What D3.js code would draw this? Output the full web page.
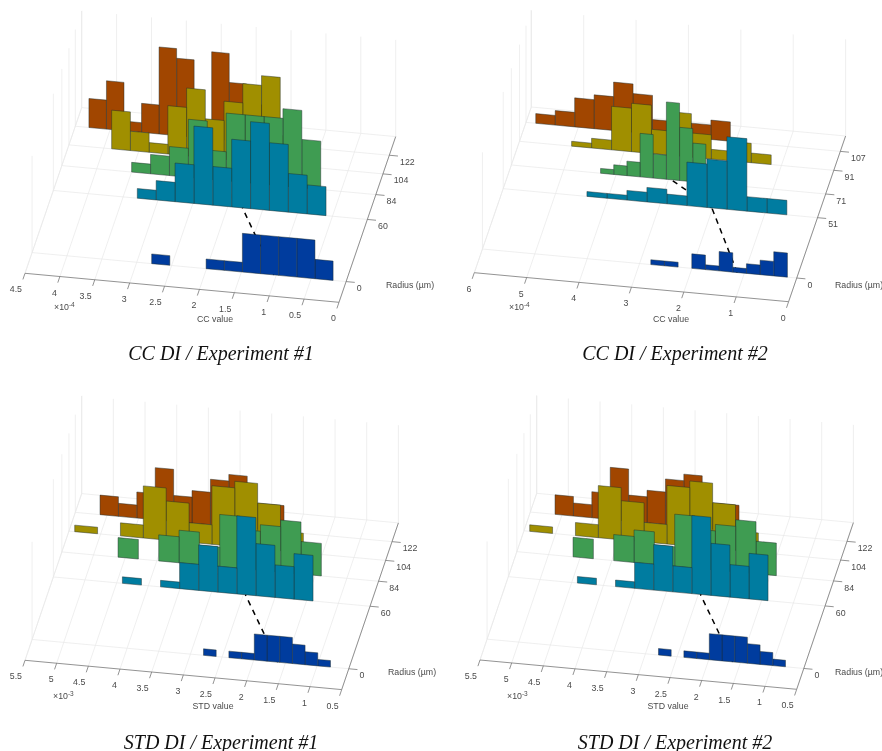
<!DOCTYPE html>
<html><head><meta charset="utf-8">
<script src="https://cdn.jsdelivr.net/npm/d3@7"></script>
<style>html,body{margin:0;padding:0;background:#fff;overflow:hidden}svg{display:block;filter:blur(0.45px)}</style>
</head><body><svg id="c" width="882" height="751" viewBox="0 0 882 751"></svg>
<script>
// ---- data: histogram counts per radius, from the low end of the value axis upward
const radiiA = [0, 60, 84, 104, 122];
const radiiB = [0, 51, 71, 91, 107];

const ccExp1Counts = [
  [2,4,4,4,4,1,1,0,0,1],
  [3,4,7,9,7,4,8,4,2,1],
  [5,8,7,7,7,3,6,3,2,1],
  [3,9,8,6,4,7,5,1,2,4],
  [4,6,9,1,8,9,3,1,5,3]
];
const ccExp1Low   = [0.186, 0.592, 0.790, 1.203, 1.792];
const ccExp1Width = [0.260, 0.2705, 0.271, 0.2685, 0.2513];

const ccExp2Counts = [
  [5,3,2,1,4,1,3,0,1,1],
  [3,3,15,10,9,2,3,2,1,1],
  [0,0,8,11,16,5,9,3,2,1],
  [2,4,2,5,9,5,10,9,2,1],
  [4,3,3,3,8,10,7,6,3,2]
];
const ccExp2Low   = [0.178, 0.585, 1.784, 1.195, 2.099];
const ccExp2Width = [0.2608, 0.3817, 0.2513, 0.381, 0.3715];

const stdExp1Counts = [
  [1,2,3,4,4,4,1,1,0,1],
  [7,5,8,12,4,7,4,1,0,1],
  [5,8,7,6,8,3,5,4,0,3],
  [3,7,10,9,3,6,8,2,0,1],
  [4,4,8,7,5,4,8,4,2,3]
];
const stdExp1Low   = [0.789, 1.400, 1.403, 1.799, 2.205];
const stdExp1Width = [0.2005, 0.301, 0.321, 0.361, 0.2905];

const stdExp2Counts = [
  [1,2,3,4,4,4,1,1,0,1],
  [7,5,8,12,4,7,4,1,0,1],
  [5,8,7,6,8,3,5,4,0,3],
  [3,7,10,9,3,6,8,2,0,1],
  [4,4,8,7,5,4,8,4,2,3]
];
const stdExp2Low   = [0.789, 1.400, 1.403, 1.799, 2.205];
const stdExp2Width = [0.2005, 0.301, 0.321, 0.361, 0.2905];

// trend line: [value, radius] on the floor
const ccExp1Trend  = [[1.034,0],[1.79,60]];
const ccExp2Trend  = [[1.136,0],[2.017,51],[2.948,71]];
const stdExp1Trend = [[1.622,0],[2.468,60]];
const stdExp2Trend = [[1.622,0],[2.468,60]];

const ticksCC1 = [4.5,4,3.5,3,2.5,2,1.5,1,0.5,0];
const ticksCC2 = [6,5,4,3,2,1,0];
const ticksSTD = [5.5,5,4.5,4,3.5,3,2.5,2,1.5,1,0.5];

const seriesColors = ["#003c9e","#007ca0","#3f9c52","#a08f00","#a14600"];

// ---- layout
const panels = [
 {title:"CC DI / Experiment #1", titleX:221, titleY:360, xLabel:"CC value", xlX:215, xlY:319, expo:"-4", exX:54, exY:310, radX:386, radY:285,
  counts:ccExp1Counts, low:ccExp1Low, width:ccExp1Width, radii:radiiA, trend:ccExp1Trend, ticks:ticksCC1,
  xDom:[4.5,0], rDom:[-20,140], zMax:10, o:[25,273.3], ex:[314,29], er:[56.7,-165.7], wall:96.7},
 {title:"CC DI / Experiment #2", titleX:675, titleY:360, xLabel:"CC value", xlX:671, xlY:319, expo:"-4", exX:509, exY:310, radX:835, radY:285,
  counts:ccExp2Counts, low:ccExp2Low, width:ccExp2Width, radii:radiiB, trend:ccExp2Trend, ticks:ticksCC2,
  xDom:[6,0], rDom:[-20,120], zMax:20, o:[474.3,272.7], ex:[314.3,29], er:[57,-165.7], wall:96.7},
 {title:"STD DI / Experiment #1", titleX:221, titleY:748.5, xLabel:"STD value", xlX:213, xlY:706, expo:"-3", exX:53, exY:699, radX:388, radY:672,
  counts:stdExp1Counts, low:stdExp1Low, width:stdExp1Width, radii:radiiA, trend:stdExp1Trend, ticks:ticksSTD,
  xDom:[5.5,0.5], rDom:[-20,140], zMax:15, o:[25,660.3], ex:[316.7,29.3], er:[56.7,-166.7], wall:97.7},
 {title:"STD DI / Experiment #2", titleX:675, titleY:748.5, xLabel:"STD value", xlX:668, xlY:706, expo:"-3", exX:507, exY:699, radX:835, radY:672,
  counts:stdExp2Counts, low:stdExp2Low, width:stdExp2Width, radii:radiiA, trend:stdExp2Trend, ticks:ticksSTD,
  xDom:[5.5,0.5], rDom:[-20,140], zMax:15, o:[480,660], ex:[316.7,29.3], er:[56.7,-166.7], wall:97.7}
];

const svg = d3.select("#c");
const sans = "'Liberation Sans',Arial,sans-serif";
const line = d3.line();
const GRID="#e8e8e8", AXIS="#777777", TEXT="#4a4a4a", FS=8.8;

panels.forEach(p=>{
  const g = svg.append("g");
  const sx = d3.scaleLinear().domain(p.xDom).range([0,1]);
  const sr = d3.scaleLinear().domain(p.rDom).range([0,1]);
  const sz = d3.scaleLinear().domain([0,p.zMax]).range([0,p.wall]);
  const pt = (x,r,z=0)=>[p.o[0]+sx(x)*p.ex[0]+sr(r)*p.er[0], p.o[1]+sx(x)*p.ex[1]+sr(r)*p.er[1]-sz(z)];
  const path=(pts,stroke,w)=>g.append("path").attr("d",line(pts)).attr("fill","none").attr("stroke",stroke).attr("stroke-width",w);
  const [xHi,xLo]=p.xDom, [rLo,rHi]=p.rDom, zTop=p.zMax;

  // floor + walls
  p.ticks.forEach(t=>{
    path([pt(t,rLo),pt(t,rHi)],GRID,0.7);
    path([pt(t,rHi),pt(t,rHi,zTop)],GRID,0.7);
  });
  const rGrid=[...p.radii,rHi];
  p.radii.forEach(r=>path([pt(xHi,r),pt(xLo,r)],GRID,0.7));
  path([pt(xHi,rHi),pt(xLo,rHi)],GRID,0.7);
  path([pt(xHi,rLo),pt(xHi,rHi)],GRID,0.7);
  rGrid.forEach(r=>path([pt(xHi,r),pt(xHi,r,zTop)],GRID,0.7));

  // axes
  path([pt(xHi,rLo),pt(xLo,rLo)],AXIS,0.8);
  path([pt(xLo,rLo),pt(xLo,rHi)],AXIS,0.8);
  const erLen=Math.hypot(...p.er), exLen=Math.hypot(...p.ex);
  p.ticks.forEach(t=>{
    const a=pt(t,rLo);
    path([a,[a[0]-p.er[0]/erLen*6.5,a[1]-p.er[1]/erLen*6.5]],AXIS,0.8);
    g.append("text").attr("x",a[0]-3).attr("y",a[1]+16).attr("dy","0.35em")
      .attr("text-anchor","end").attr("font-family",sans).attr("font-size",FS).attr("fill",TEXT).text(t);
  });
  p.radii.forEach(r=>{
    const a=pt(xLo,r);
    path([a,[a[0]+p.ex[0]/exLen*8.7,a[1]+p.ex[1]/exLen*8.7]],AXIS,0.8);
    g.append("text").attr("x",a[0]+10.7).attr("y",a[1]+6.5).attr("dy","0.35em")
      .attr("font-family",sans).attr("font-size",FS).attr("fill",TEXT).text(r);
  });

  // bars and trend, painted from the back to the front
  const seg=i=>{
    if(i+1<p.trend.length){
      const a=p.trend[i],b=p.trend[i+1];
      path([pt(a[0],a[1]),pt(b[0],b[1])],"#000",1.5).attr("stroke-dasharray","5.5 5");
    }
  };
  d3.range(p.radii.length-1,-1,-1).forEach(i=>{
    seg(i);
    p.counts[i].forEach((c,k)=>{
      if(!c) return;
      const x0=p.low[i]+k*p.width[i], x1=x0+p.width[i], r=p.radii[i];
      g.append("path").attr("d",line([pt(x0,r),pt(x1,r),pt(x1,r,c),pt(x0,r,c)])+"Z")
        .attr("fill",seriesColors[i]).attr("stroke","#1c2b2b").attr("stroke-opacity",0.75).attr("stroke-width",0.6);
    });
  });

  // text
  g.append("text").attr("x",p.xlX).attr("y",p.xlY).attr("dy","0.35em").attr("text-anchor","middle")
    .attr("font-family",sans).attr("font-size",FS).attr("fill",TEXT).text(p.xLabel);
  g.append("text").attr("x",p.radX).attr("y",p.radY).attr("dy","0.35em")
    .attr("font-family",sans).attr("font-size",FS).attr("fill",TEXT).text("Radius (µm)");
  const ex=g.append("text").attr("x",p.exX).attr("y",p.exY)
    .attr("font-family",sans).attr("font-size",FS).attr("fill",TEXT);
  ex.append("tspan").text("×10");
  ex.append("tspan").attr("dy",-3).attr("font-size",6.5).text(p.expo);
  g.append("text").attr("x",p.titleX).attr("y",p.titleY).attr("text-anchor","middle")
    .attr("font-family","'Liberation Serif','Times New Roman',serif").attr("font-style","italic")
    .attr("font-size",20).attr("fill","#111").text(p.title);
});
</script></body></html>
